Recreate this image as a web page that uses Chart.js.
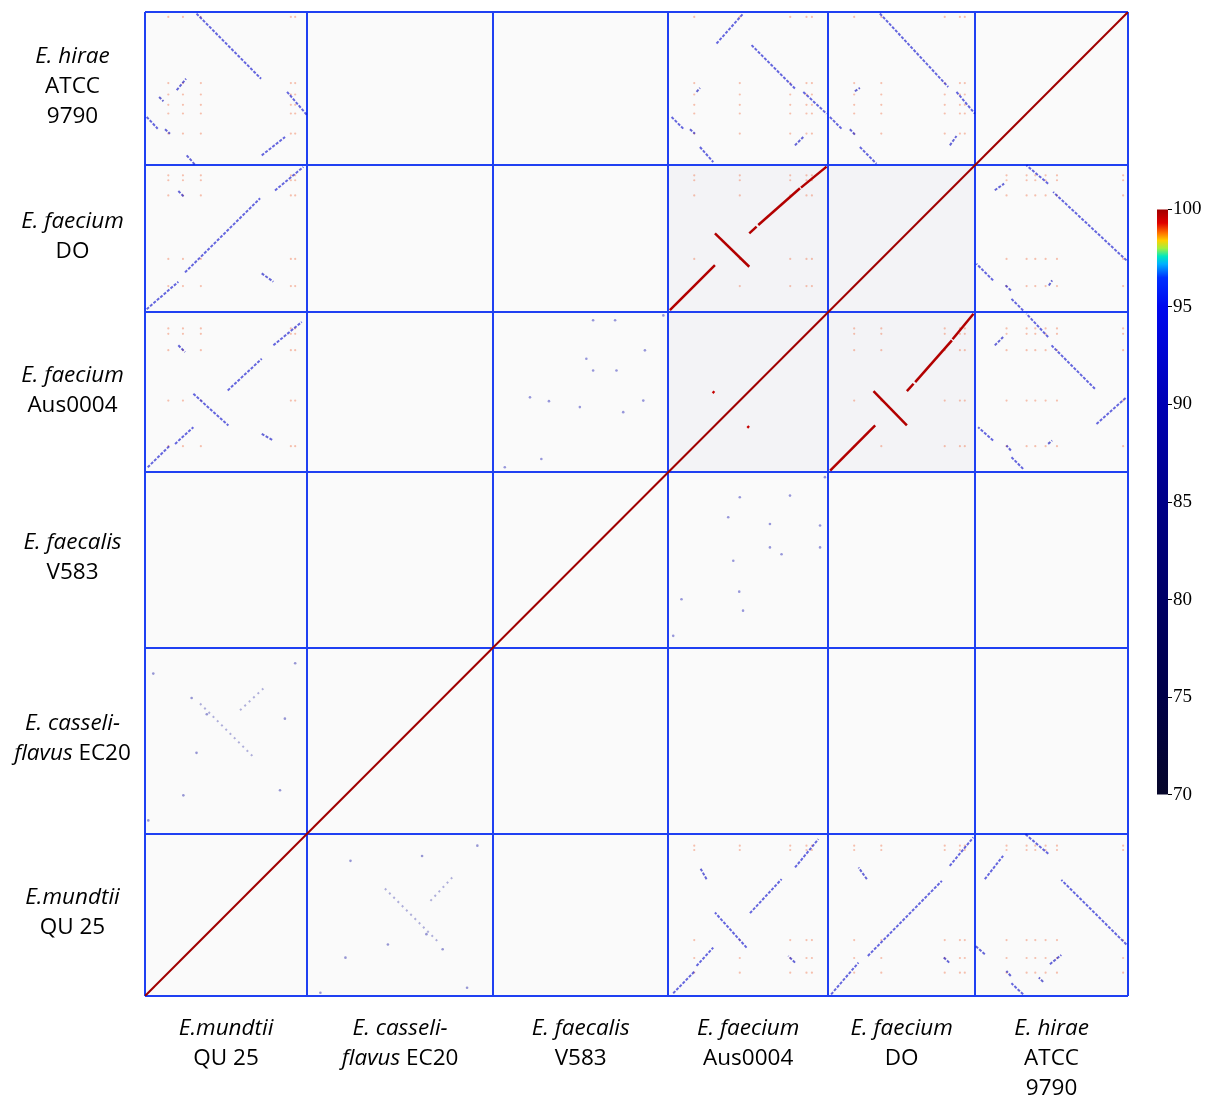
<!DOCTYPE html>
<html>
<head>
<meta charset="utf-8">
<script src="https://cdn.jsdelivr.net/npm/chart.js@4.4.0/dist/chart.umd.min.js"></script>
<style>
  html, body { margin: 0; padding: 0; background: #fff; }
  #wrap { position: relative; width: 1206px; height: 1100px; }
  #plot { position: absolute; left: 0; top: 0; }
  #bar { position: absolute; left: 1157px; top: 197px; }
</style>
</head>
<body>
<div id="wrap">
  <canvas id="plot" width="1206" height="1100"></canvas>
  <canvas id="bar" width="49" height="610"></canvas>
</div>
<script>
// genomes, in axis order (x left->right, y bottom->top), sizes in Mb
const genomeSizes = [2.99, 3.43, 3.23, 2.95, 2.71, 2.82];
const genomeLabels = [
  [[['E.mundtii', true]], [['QU 25', false]]],
  [[['E. casseli-', true]], [['flavus', true], [' EC20', false]]],
  [[['E. faecalis', true]], [['V583', false]]],
  [[['E. faecium', true]], [['Aus0004', false]]],
  [[['E. faecium', true]], [['DO', false]]],
  [[['E. hirae', true]], [['ATCC', false]], [['9790', false]]]
];

// alignment segments per genome pair: [startA, startB, endA, endB, % identity] (Mb)
const segMundtiiHirae = [
  [0.95, 2.79, 2.14, 1.59, 92], [2.62, 1.35, 2.98, 0.93, 92],
  [0.585, 1.38, 0.757, 1.59, 91], [0.26, 1.255, 0.34, 1.176, 90],
  [0.031, 0.886, 0.234, 0.670, 92], [0.369, 0.658, 0.461, 0.577, 91],
  [2.153, 0.179, 2.583, 0.517, 92], [0.769, 0.179, 0.923, 0.006, 91]
];
const segMundtiiDO = [
  [0.031, 0.055, 0.615, 0.559, 92], [0.738, 0.732, 2.122, 2.097, 92],
  [2.398, 2.242, 2.921, 2.676, 92], [0.615, 2.232, 0.726, 2.116, 91],
  [2.152, 0.714, 2.367, 0.560, 91]
];
const segMundtiiAus = [
  [0.050, 0.092, 0.461, 0.493, 92], [0.554, 0.522, 0.892, 0.830, 92],
  [0.892, 1.445, 1.538, 0.862, 92], [1.526, 1.508, 2.153, 2.091, 92],
  [2.368, 2.339, 2.891, 2.769, 92], [0.615, 2.339, 0.738, 2.214, 91],
  [2.153, 0.707, 2.367, 0.585, 91]
];
const segMundtiiCass = [
  [1.015, 2.399, 2.030, 1.384, 86], [1.753, 2.275, 2.183, 2.676, 86]
];
const segAusHirae = [
  [0.891, 2.239, 1.384, 2.792, 92], [1.537, 2.210, 2.337, 1.410, 92],
  [2.491, 1.347, 2.921, 0.946, 92], [2.337, 0.363, 2.491, 0.517, 91],
  [0.062, 0.886, 0.277, 0.671, 92], [0.401, 0.660, 0.493, 0.578, 91],
  [0.585, 0.332, 0.830, 0.055, 92], [0.523, 1.347, 0.585, 1.421, 90]
];
const segDOHirae = [
  [0.954, 2.792, 2.214, 1.439, 92], [2.367, 1.347, 2.706, 0.946, 92],
  [2.245, 0.363, 2.367, 0.535, 91], [0.031, 0.886, 0.245, 0.671, 92],
  [0.400, 0.660, 0.493, 0.561, 91], [0.585, 0.332, 0.891, 0.024, 92],
  [0.492, 1.360, 0.585, 1.421, 90]
];
const segAusDO = [
  [0.031, 0.037, 0.862, 0.867, 99.8], [0.862, 1.452, 1.495, 0.836, 99.8],
  [1.495, 1.452, 1.630, 1.575, 99.8], [1.661, 1.605, 2.430, 2.282, 99.8],
  [2.449, 2.294, 2.921, 2.681, 99.8]
];
const segAusSelf = [[0.82, 1.49, 0.85, 1.46, 99.6]];

// pairs: [genome on x, genome on y, segments]
const pairs = [
  [0, 5, segMundtiiHirae], [0, 4, segMundtiiDO], [0, 3, segMundtiiAus],
  [0, 1, segMundtiiCass], [3, 5, segAusHirae], [4, 5, segDOHirae],
  [3, 4, segAusDO], [3, 3, segAusSelf]
];

// isolated short hits: [posA, posB] (Mb)
const hitsMundtiiCass = [[0.061, 0.245], [0.707, 0.707], [2.49, 0.80], [2.77, 3.14], [0.153, 2.95],
  [0.95, 1.49], [0.86, 2.50], [2.58, 2.12], [1.14, 2.20]];
const hitsAusFaecalis = [[1.876, 2.276], [2.80, 2.25], [1.876, 1.845], [2.80, 1.845], [1.107, 2.40],
  [1.32, 2.77], [2.246, 2.80], [0.092, 0.216], [1.31, 1.03], [1.20, 1.60], [0.245, 0.89],
  [2.89, 3.14], [2.09, 1.72], [1.38, 0.68]];
const hitPairs = [[0, 1, hitsMundtiiCass, 87], [3, 2, hitsAusFaecalis, 89]];

// rRNA operon positions (Mb) -> faint cross hits
const rrnPositions = [
  [0.43, 0.70, 1.03, 2.69, 2.77],
  [],
  [],
  [0.48, 1.32, 2.25, 2.55, 2.65],
  [0.48, 0.98, 2.15, 2.43, 2.52],
  [0.58, 0.95, 1.11, 1.30, 1.51, 2.73]
];

// colour scale
const cmapValues = [70, 75, 80, 85, 90, 95, 96.5, 97.2, 97.6, 98.0, 98.4, 98.8, 99.3, 100];
const cmapColors = ['#06062a', '#000048', '#000066', '#000088', '#0000b4', '#0008ee', '#0030ff',
  '#00b0ff', '#00e8c0', '#a0f040', '#ffd000', '#ff7000', '#e00000', '#a00000'];
const colorbarTicks = [70, 75, 80, 85, 90, 95, 100];

const offsets = [];
genomeSizes.reduce((acc, s, i) => { offsets[i] = acc; return acc + s; }, 0);
const total = genomeSizes.reduce((a, b) => a + b, 0);
const boundaries = offsets.concat([total]);

function hexRgb(h) {
  return [parseInt(h.slice(1, 3), 16), parseInt(h.slice(3, 5), 16), parseInt(h.slice(5, 7), 16)];
}
function cmap(v, alpha) {
  let i = 0;
  while (i < cmapValues.length - 2 && v > cmapValues[i + 1]) i++;
  const t = Math.max(0, Math.min(1, (v - cmapValues[i]) / (cmapValues[i + 1] - cmapValues[i])));
  const a = hexRgb(cmapColors[i]), b = hexRgb(cmapColors[i + 1]);
  const c = a.map((x, k) => Math.round(x + (b[k] - x) * t));
  return `rgba(${c[0]},${c[1]},${c[2]},${alpha})`;
}

const datasets = [];
// self alignment diagonal
datasets.push({
  data: [{ x: 0, y: 0 }, { x: total, y: total }],
  showLine: true, borderColor: cmap(100, 1), borderWidth: 2, pointRadius: 0
});
pairs.forEach(([ga, gb, segs]) => {
  segs.forEach(s => {
    const red = s[4] > 99;
    const faint = s[4] < 90;
    const style = {
      showLine: true, pointRadius: 0,
      borderColor: cmap(s[4], red ? 1 : (faint ? 0.3 : 0.6)),
      borderWidth: red ? 2.5 : 2,
      borderDash: red ? [] : (faint ? [2, 4] : [3, 1.5])
    };
    datasets.push(Object.assign({
      data: [{ x: offsets[ga] + s[0], y: offsets[gb] + s[1] }, { x: offsets[ga] + s[2], y: offsets[gb] + s[3] }]
    }, style));
    datasets.push(Object.assign({
      data: [{ x: offsets[gb] + s[1], y: offsets[ga] + s[0] }, { x: offsets[gb] + s[3], y: offsets[ga] + s[2] }]
    }, style));
  });
});
hitPairs.forEach(([ga, gb, hits, ident]) => {
  const pts = [];
  hits.forEach(h => {
    pts.push({ x: offsets[ga] + h[0], y: offsets[gb] + h[1] });
    pts.push({ x: offsets[gb] + h[1], y: offsets[ga] + h[0] });
  });
  datasets.push({
    data: pts, showLine: false, pointRadius: 1.3, borderWidth: 0,
    pointBackgroundColor: cmap(ident, 0.4)
  });
});
const rrnDots = [];
for (let a = 0; a < rrnPositions.length; a++) {
  for (let b = 0; b < rrnPositions.length; b++) {
    if (a === b) continue;
    rrnPositions[a].forEach(pa => rrnPositions[b].forEach(pb => {
      rrnDots.push({ x: offsets[a] + pa, y: offsets[b] + pb });
    }));
  }
}
datasets.push({
  data: rrnDots, showLine: false, pointRadius: 1.1, borderWidth: 0,
  pointBackgroundColor: 'rgba(240,120,80,0.45)'
});

const backdrop = {
  id: 'backdrop',
  beforeDraw(chart) {
    const { ctx, chartArea: ca, scales } = chart;
    ctx.save();
    ctx.fillStyle = '#fafafa';
    ctx.fillRect(ca.left, ca.top, ca.right - ca.left, ca.bottom - ca.top);
    // faecium/faecium blocks look speckled grey
    const x0 = scales.x.getPixelForValue(offsets[3]), x1 = scales.x.getPixelForValue(offsets[5]);
    const y0 = scales.y.getPixelForValue(offsets[5]), y1 = scales.y.getPixelForValue(offsets[3]);
    ctx.fillStyle = '#f3f3f6';
    ctx.fillRect(x0, y0, x1 - x0, y1 - y0);
    ctx.restore();
  }
};

const labelFont = '22.5px "Open Sans"';
function drawLabel(ctx, lines, cx, firstY, lineH) {
  lines.forEach((parts, li) => {
    const y = firstY + li * lineH;
    let w = 0;
    parts.forEach(([t, it]) => { ctx.font = (it ? 'italic ' : '') + labelFont; w += ctx.measureText(t).width; });
    let x = cx - w / 2;
    parts.forEach(([t, it]) => {
      ctx.font = (it ? 'italic ' : '') + labelFont;
      ctx.fillText(t, x, y);
      x += ctx.measureText(t).width;
    });
  });
}

const genomeText = {
  id: 'genomeText',
  afterDraw(chart) {
    const { ctx, chartArea: ca, scales } = chart;
    ctx.save();
    ctx.fillStyle = '#000';
    ctx.textAlign = 'left';
    ctx.textBaseline = 'middle';
    genomeLabels.forEach((lines, i) => {
      const mid = offsets[i] + genomeSizes[i] / 2;
      const lineH = 30;
      const cy = scales.y.getPixelForValue(mid);
      drawLabel(ctx, lines, ca.left / 2, cy - (lines.length - 1) * lineH / 2 - 2, lineH);
      drawLabel(ctx, lines, scales.x.getPixelForValue(mid), ca.bottom + 33, lineH);
    });
    ctx.restore();
  }
};

const gridOpts = {
  type: 'linear', min: 0, max: total,
  afterBuildTicks: s => { s.ticks = boundaries.map(v => ({ value: v })); },
  ticks: { display: false },
  grid: { color: '#1f40f2', lineWidth: 2, drawTicks: false },
  border: { display: false }
};

new Chart(document.getElementById('plot'), {
  type: 'scatter',
  data: { datasets },
  options: {
    responsive: false, animation: false,
    layout: { padding: { left: 145, top: 12, right: 78, bottom: 104 } },
    plugins: { legend: { display: false }, tooltip: { enabled: false } },
    scales: { x: gridOpts, y: Object.assign({}, gridOpts) }
  },
  plugins: [backdrop, genomeText]
});

// colour bar
new Chart(document.getElementById('bar'), {
  type: 'bar',
  data: {
    labels: ['identity'],
    datasets: [{
      data: [[70, 100]], barPercentage: 1, categoryPercentage: 1, borderWidth: 0,
      backgroundColor: c => {
        const ca = c.chart.chartArea;
        if (!ca) return '#0000ff';
        const g = c.chart.ctx.createLinearGradient(0, ca.bottom, 0, ca.top);
        cmapValues.forEach((v, i) => g.addColorStop((v - 70) / 30, cmapColors[i]));
        return g;
      }
    }]
  },
  options: {
    responsive: false, animation: false,
    layout: { padding: { top: 10, bottom: 10 } },
    plugins: { legend: { display: false }, tooltip: { enabled: false } },
    scales: {
      x: { display: false },
      y: {
        position: 'right', min: 70, max: 100,
        afterBuildTicks: s => { s.ticks = colorbarTicks.map(v => ({ value: v })); },
        afterFit: s => { s.width = 38; },
        ticks: { color: '#000', padding: 1, font: { family: 'Liberation Serif', size: 19 } },
        grid: { drawOnChartArea: false, drawTicks: true, tickLength: 4, color: '#000' },
        border: { display: false }
      }
    }
  }
});
</script>
</body>
</html>
